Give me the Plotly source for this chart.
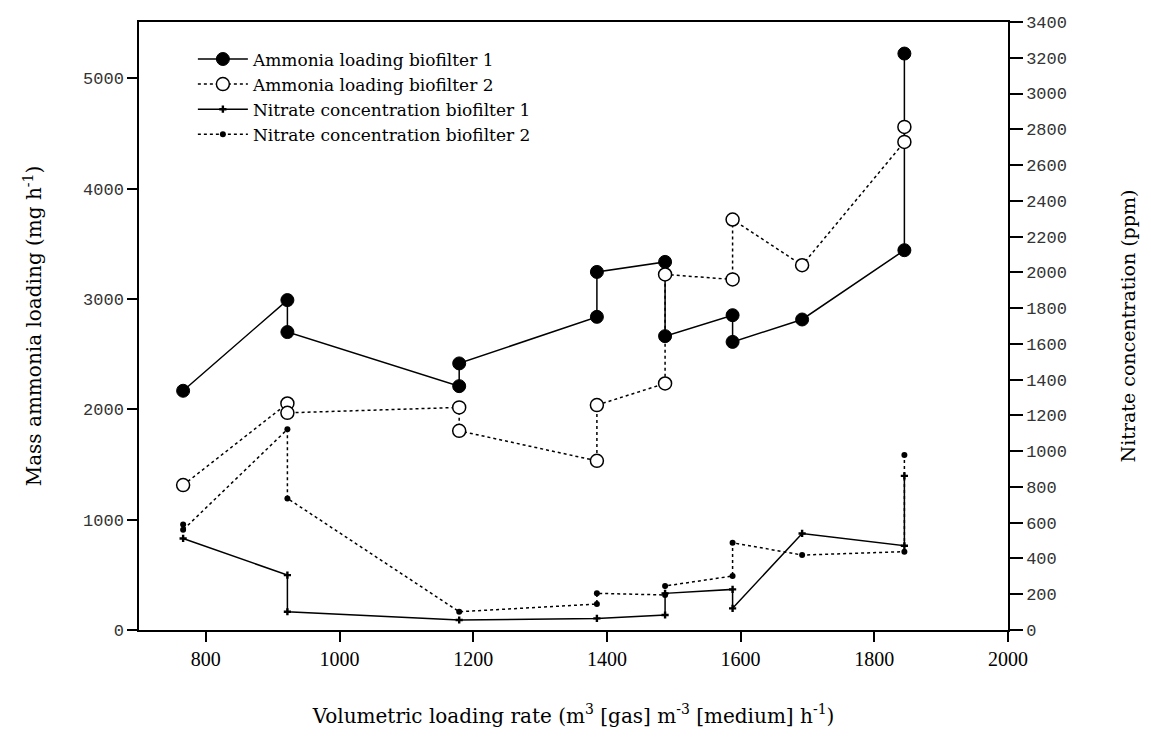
import plotly.graph_objects as go

# Ammonia loading biofilter 1 (mg h-1)
amm1_x = [766, 922, 922, 1179, 1179, 1385, 1385, 1487, 1487, 1588, 1588, 1692, 1845, 1845]
amm1_y = [2168, 2990, 2700, 2210, 2416, 2838, 3245, 3336, 2663, 2853, 2611, 2814, 3442, 5224]

# Ammonia loading biofilter 2 (mg h-1)
amm2_x = [766, 922, 922, 1179, 1179, 1385, 1385, 1487, 1487, 1588, 1588, 1692, 1845, 1845]
amm2_y = [1313, 2053, 1968, 2017, 1805, 1533, 2038, 2234, 3222, 3177, 3720, 3306, 4423, 4559]

# Nitrate concentration biofilter 1 (ppm)
nit1_x = [766, 922, 922, 1179, 1385, 1487, 1487, 1588, 1588, 1692, 1845, 1845]
nit1_y = [512, 307, 102, 56, 65, 84, 205, 227, 121, 540, 471, 862]

# Nitrate concentration biofilter 2 (ppm)
nit2_x = [766, 766, 922, 922, 1179, 1385, 1385, 1487, 1487, 1588, 1588, 1692, 1845, 1845]
nit2_y = [590, 560, 1122, 736, 102, 145, 205, 196, 246, 302, 488, 419, 438, 978]

x_ticks = [800, 1000, 1200, 1400, 1600, 1800, 2000]
left_ticks = [0, 1000, 2000, 3000, 4000, 5000]
right_ticks = list(range(0, 3401, 200))

SERIF = "Liberation Serif"
WIDE_SERIF = "DejaVu Serif"
MONO = "Liberation Mono"

fig = go.Figure()
fig.add_trace(go.Scatter(
    x=amm1_x, y=amm1_y, name="Ammonia loading biofilter 1", mode="lines+markers",
    line=dict(color="black", width=1.5),
    marker=dict(symbol="circle", size=13, color="black", line=dict(color="black", width=1)),
))
fig.add_trace(go.Scatter(
    x=amm2_x, y=amm2_y, name="Ammonia loading biofilter 2", mode="lines+markers",
    line=dict(color="black", width=1.5, dash="dot"),
    marker=dict(symbol="circle", size=13, color="white", line=dict(color="black", width=1.5)),
))
fig.add_trace(go.Scatter(
    x=nit1_x, y=nit1_y, name="Nitrate concentration biofilter 1", mode="lines+markers",
    yaxis="y2",
    line=dict(color="black", width=1.5),
    marker=dict(symbol="cross", size=6, color="black"),
))
fig.add_trace(go.Scatter(
    x=nit2_x, y=nit2_y, name="Nitrate concentration biofilter 2", mode="lines+markers",
    yaxis="y2",
    line=dict(color="black", width=1.5, dash="dot"),
    marker=dict(symbol="circle", size=6, color="black"),
))

fig.update_layout(
    width=1143, height=737,
    margin=dict(l=131, r=143, t=14, b=115, autoexpand=False),
    paper_bgcolor="white", plot_bgcolor="white",
    showlegend=True,
    legend=dict(
        x=0.062, y=0.968, xanchor="left", yanchor="top",
        font=dict(family=WIDE_SERIF, size=17, color="black"),
        bgcolor="rgba(0,0,0,0)", borderwidth=0,
        tracegroupgap=0, itemwidth=50,
    ),
    xaxis=dict(
        range=[700, 2000], tickvals=x_ticks,
        showline=True, linecolor="black", linewidth=1.5, mirror=True,
        ticks="outside", ticklen=10, tickcolor="black", tickwidth=1.5,
        showgrid=False, zeroline=False, automargin=False,
        tickfont=dict(family=SERIF, size=20, color="black"),
        title=dict(text="Volumetric loading rate (m<sup>3</sup> [gas] m<sup>-3</sup> [medium] h<sup>-1</sup>)",
                   font=dict(family=WIDE_SERIF, size=20, color="black"), standoff=40),
    ),
    yaxis=dict(
        range=[0, 5510], tickvals=left_ticks,
        showline=True, linecolor="black", linewidth=1.5,
        ticks="outside", ticklen=10, tickcolor="black", tickwidth=1.5,
        showgrid=False, zeroline=False, automargin=False,
        tickfont=dict(family=MONO, size=17, color="#333333"),
        title=dict(text="Mass ammonia loading (mg h<sup>-1</sup>)",
                   font=dict(family=WIDE_SERIF, size=20, color="black"), standoff=36),
    ),
    yaxis2=dict(
        range=[0, 3400], tickvals=right_ticks,
        overlaying="y", side="right", anchor="x",
        showline=True, linecolor="black", linewidth=1.5,
        ticks="outside", ticklen=13, tickcolor="black", tickwidth=1.5,
        showgrid=False, zeroline=False, automargin=False,
        tickfont=dict(family=MONO, size=17, color="#333333"),
        title=dict(text="Nitrate concentration (ppm)",
                   font=dict(family=WIDE_SERIF, size=19, color="black"), standoff=56),
    ),
)

fig.write_html("out.html")
